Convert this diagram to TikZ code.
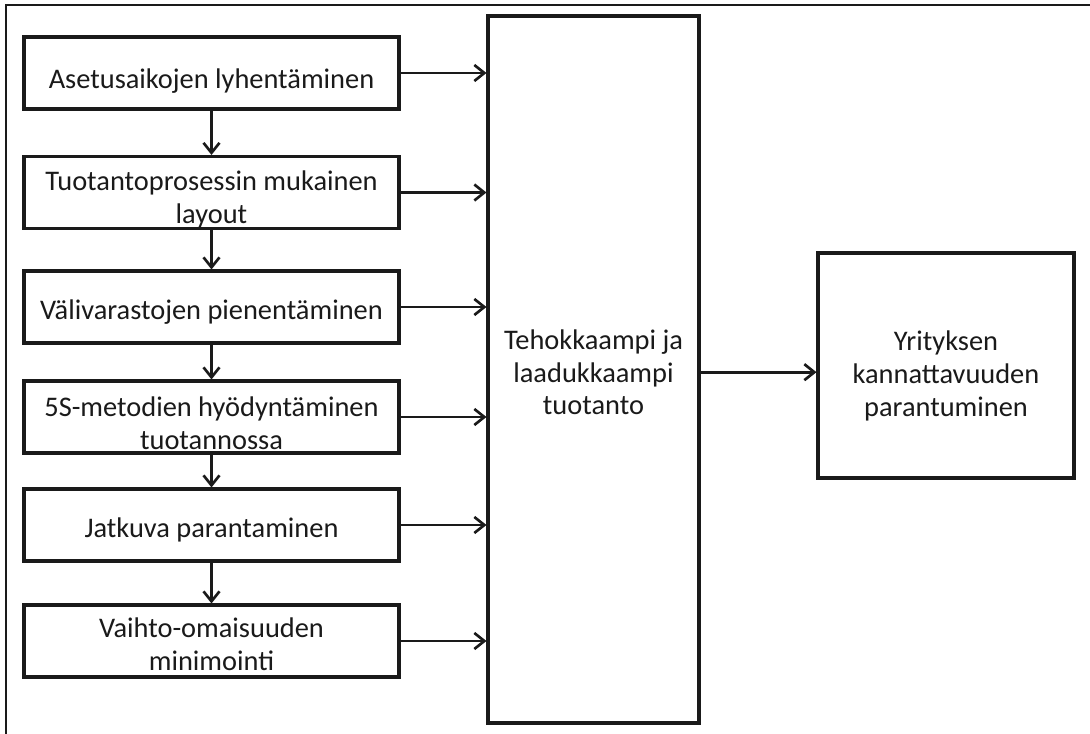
\documentclass[tikz,border=0pt]{standalone}
\usepackage{fontspec}
\setmainfont{Carlito}
\usetikzlibrary{arrows.meta}
\definecolor{ink}{HTML}{1A1A1A}
\begin{document}
\begin{tikzpicture}[x=0.75pt,y=-0.75pt,
  box/.style={draw=ink,line width=2.3pt,inner sep=0pt,fill=white},
  lbox/.style={box,minimum width=281.25pt,minimum height=54pt},
  lbl/.style={text=ink,font=\fontsize{21.3}{24.5}\selectfont,align=center,inner sep=0pt},
  conn/.style={draw=ink,line width=2pt,-{Straight Barb[length=7.5pt,width=12pt,line width=2pt]}},
  frame/.style={draw=ink,line width=1.8pt}]
\useasboundingbox (0,0) rectangle (1090,733);
% outer frame, cut off at the right and bottom
\draw[frame] (6,740) -- (6,5) -- (1100,5);
% left column of measures
\node[lbox] (b1) at (211.5,73) {};
\node[lbox] (b2) at (211.5,192.5) {};
\node[lbox] (b3) at (211.5,307) {};
\node[lbox] (b4) at (211.5,417) {};
\node[lbox] (b5) at (211.5,525) {};
\node[lbox] (b6) at (211.5,641) {};
\node[lbl] (t1) at (211.5,81) {Asetusaikojen lyhentäminen};
\node[lbl] (t2) at (211.5,199.5) {Tuotantoprosessin mukainen\\layout};
\node[lbl] (t3) at (211.5,312) {Välivarastojen pienentäminen};
\node[lbl] (t4) at (211.5,423) {5S-metodien hyödyntäminen\\tuotannossa};
\node[lbl] (t5) at (211.5,530) {Jatkuva parantaminen};
\node[lbl] (t6) at (211.5,644) {Vaihto-omaisuuden\\minimointi};
% middle and right boxes
\node[box,minimum width=158.25pt,minimum height=530.25pt] (mid) at (593.5,369.5) {};
\node[lbl] (tm) at (593.5,372.5) {Tehokkaampi ja\\laadukkaampi\\tuotanto};
\node[box,minimum width=192pt,minimum height=168.75pt] (res) at (946,365.5) {};
\node[lbl] (tr) at (946,376) {Yrityksen\\kannattavuuden\\parantuminen};
% connectors
\foreach \a/\b in {b1/b2,b2/b3,b3/b4,b4/b5,b5/b6}
  \draw[conn] (\a.south) -- (\b.north);
\foreach \a in {b1,b2,b3,b4,b5,b6}
  \draw[conn] (\a.east) -- (\a.east -| mid.west);
\draw[conn] ([yshift=-2pt]mid.east) -- ([yshift=-2pt]mid.east -| res.west);
\end{tikzpicture}
\end{document}
